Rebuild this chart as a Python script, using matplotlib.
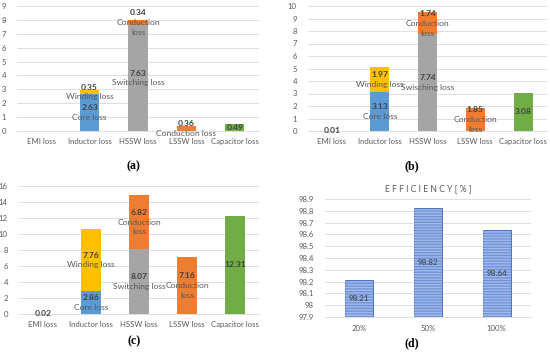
import matplotlib
matplotlib.use("Agg")
import matplotlib.pyplot as plt

plt.rcParams['font.family'] = ['Lato', 'DejaVu Sans']

categories = ['EMI loss', 'Inductor loss', 'HSSW loss', 'LSSW loss', 'Capacitor loss']

# Panel (a)
a_base = [0.0, 2.63, 7.63, 0.36, 0.49]
a_top = [0.0, 0.35, 0.34, 0.0, 0.0]
a_base_names = ['', 'Core loss', 'Switching loss', 'Conduction loss', '']
a_top_names = ['', 'Winding loss', 'Conduction\nloss', '', '']
a_base_labels = ['', '2.63', '7.63', '0.36', '0.49']
a_top_labels = ['', '0.35', '0.34', '', '']

# Panel (b)
b_base = [0.01, 3.13, 7.74, 1.85, 3.08]
b_top = [0.0, 1.97, 1.74, 0.0, 0.0]
b_base_names = ['', 'Core loss', 'Swisching loss', 'Conduction\nloss', '']
b_top_names = ['', 'Winding loss', 'Conduction\nloss', '', '']
b_base_labels = ['0.01', '3.13', '7.74', '1.85', '3.08']
b_top_labels = ['', '1.97', '1.74', '', '']

# Panel (c)
c_base = [0.02, 2.86, 8.07, 7.16, 12.31]
c_top = [0.0, 7.76, 6.82, 0.0, 0.0]
c_base_names = ['', 'Core loss', 'Switching loss', 'Conduction\nloss', '']
c_top_names = ['', 'Winding loss', 'Conduction\nloss', '', '']
c_base_labels = ['0.02', '2.86', '8.07', '7.16', '12.31']
c_top_labels = ['', '7.76', '6.82', '', '']

# Panel (d)
d_loads = ['20%', '50%', '100%']
d_eff = [98.21, 98.82, 98.64]

base_colors = ['#5B9BD5', '#5B9BD5', '#A5A5A5', '#ED7D31', '#70AD47']
top_colors = ['#FFC000', '#FFC000', '#ED7D31', '#ED7D31', '#ED7D31']

W, H = 550, 353
fig = plt.figure(figsize=(W / 100, H / 100), dpi=100)


def ax_px(x0, x1, ytop, ybot):
    return fig.add_axes([x0 / W, 1 - ybot / H, (x1 - x0) / W, (ybot - ytop) / H])


GRID = '#d9d9d9'
TICKC = '#595959'
FS = 5.6
LFS = 6.1   # inner label font size
LH = 7.0    # line height in points


def put_label(ax, x, y, num, name):
    lines = []
    if num:
        lines.append((num, True))
    if name:
        for ln in name.split('\n'):
            lines.append((ln, False))
    n = len(lines)
    for i, (t, bold) in enumerate(lines):
        off = (n - 1) / 2 * LH - i * LH
        ax.annotate(t, (x, y), xytext=(0, off), textcoords='offset points',
                    ha='center', va='center', fontsize=LFS,
                    fontweight='bold' if bold else 'normal',
                    color='#404040' if bold else '#595959', zorder=5)


def loss_panel(ax, base, top, bnames, tnames, blabels, tlabels, ymax, ystep):
    x = list(range(len(categories)))
    ax.bar(x, base, width=0.4, color=base_colors, zorder=2)
    ax.bar(x, top, width=0.4, bottom=base, color=top_colors, zorder=2)
    for i in x:
        if blabels[i] or bnames[i]:
            put_label(ax, i, base[i] / 2, blabels[i], bnames[i])
        if tlabels[i] or tnames[i]:
            put_label(ax, i, base[i] + top[i] / 2, tlabels[i], tnames[i])
    ax.set_xlim(-0.5, len(categories) - 0.5)
    ax.set_ylim(0, ymax)
    ax.set_yticks([v * ystep for v in range(int(ymax / ystep) + 1)])
    ax.set_yticklabels([str(v * ystep) for v in range(int(ymax / ystep) + 1)])
    ax.set_xticks(x)
    ax.set_xticklabels(categories)
    ax.yaxis.grid(True, color=GRID, lw=0.6, zorder=0)
    ax.set_axisbelow(True)
    for s in ['top', 'right', 'left']:
        ax.spines[s].set_visible(False)
    ax.spines['bottom'].set_color(GRID)
    ax.spines['bottom'].set_linewidth(0.6)
    ax.tick_params(axis='both', length=0, labelsize=FS, colors=TICKC)
    ax.tick_params(axis='x', pad=5)
    ax.tick_params(axis='y', pad=8)


ax_a = ax_px(17, 259, 6, 131)
loss_panel(ax_a, a_base, a_top, a_base_names, a_top_names, a_base_labels, a_top_labels, 9, 1)
ax_b = ax_px(308, 547, 6, 131)
loss_panel(ax_b, b_base, b_top, b_base_names, b_top_names, b_base_labels, b_top_labels, 10, 1)
ax_c = ax_px(19, 259, 186, 314)
loss_panel(ax_c, c_base, c_top, c_base_names, c_top_names, c_base_labels, c_top_labels, 16, 2)

# Panel (d)
ax_d = ax_px(325, 531, 199, 317)
xd = list(range(len(d_loads)))
ax_d.bar(xd, [v - 97.9 for v in d_eff], bottom=97.9, width=0.41,
         color='#6f92d8', edgecolor='#4a73c5', linewidth=0.7, zorder=2)
ax_d.bar(xd, [v - 97.9 for v in d_eff], bottom=97.9, width=0.41,
         fill=False, hatch='------', edgecolor='#a3bbea', linewidth=0, zorder=3)
for i, v in enumerate(d_eff):
    ax_d.text(i, (97.9 + v) / 2, f'{v:.2f}', ha='center', va='center',
              fontsize=FS + 0.3, color='#404040', zorder=4)
ax_d.set_xlim(-0.5, 2.5)
ax_d.set_ylim(97.9, 98.9)
yt = [97.9 + 0.1 * k for k in range(11)]
ax_d.set_yticks(yt)
ax_d.set_yticklabels([('%.1f' % t).rstrip('0').rstrip('.') for t in yt])
ax_d.set_xticks(xd)
ax_d.set_xticklabels(d_loads)
ax_d.yaxis.grid(True, color=GRID, lw=0.6, zorder=0)
ax_d.set_axisbelow(True)
for s in ['top', 'right', 'left']:
    ax_d.spines[s].set_visible(False)
ax_d.spines['bottom'].set_color(GRID)
ax_d.spines['bottom'].set_linewidth(0.6)
ax_d.tick_params(axis='both', length=0, labelsize=FS, colors=TICKC)
ax_d.tick_params(axis='x', pad=6)
ax_d.tick_params(axis='y', pad=8)
ax_d.set_title('E F F I C I E N C Y [ % ]', fontsize=6.2, color='#595959', pad=6)

# Captions
cap = dict(ha='center', va='center', fontsize=8.6, fontweight='bold',
           family=['Liberation Serif', 'DejaVu Serif'], color='black')
fig.text(133 / W, 1 - 166 / H, '(a)', **cap)
fig.text(412 / W, 1 - 166 / H, '(b)', **cap)
fig.text(134 / W, 1 - 341 / H, '(c)', **cap)
fig.text(412 / W, 1 - 343 / H, '(d)', **cap)

fig.savefig('out.png', dpi=100, facecolor='white')
